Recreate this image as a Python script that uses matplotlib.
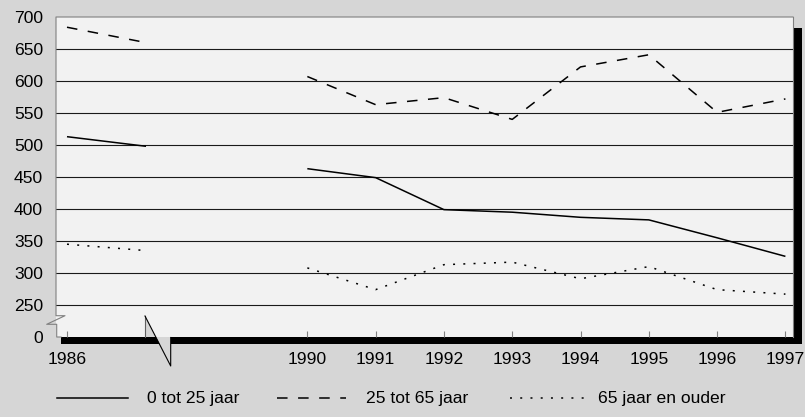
import numpy as np
import matplotlib
matplotlib.use("Agg")
import matplotlib.pyplot as plt
from matplotlib.lines import Line2D
from matplotlib.patches import Rectangle, Polygon
from matplotlib.transforms import Affine2D

# ---------------- data ----------------
years_early = [1986, 1987]
years_late = [1990, 1991, 1992, 1993, 1994, 1995, 1996, 1997]

young_early = [513, 498]
young_late = [463, 449, 399, 395, 387, 383, 355, 326]
mid_early = [684, 660]
mid_late = [607, 563, 574, 540, 622, 641, 551, 572]
old_early = [345, 335]
old_late = [308, 274, 313, 317, 291, 310, 274, 267]

tick_years = [1986, 1990, 1991, 1992, 1993, 1994, 1995, 1996, 1997]
ytick_vals = [0, 250, 300, 350, 400, 450, 500, 550, 600, 650, 700]
grid_vals = [250, 300, 350, 400, 450, 500, 550, 600, 650]
series_labels = ["0 tot 25 jaar", "25 tot 65 jaar", "65 jaar en ouder"]

# ---------------- style ----------------
plt.rcParams["font.family"] = ["Liberation Sans", "DejaVu Sans"]
plt.rcParams["font.size"] = 12.6
BG = "#d6d6d6"
PLOT_BG = "#f2f2f2"
LW = 1.1
DASH = (6.9, 6.9)
DOT = (1.3, 5.4)

W, H = 805, 417
fig = plt.figure(figsize=(W / 100, H / 100), dpi=100, facecolor=BG)
px = Affine2D().scale(1 / W, -1 / H).translate(0, 1) + fig.transFigure

L, T, R, B = 56, 17, 793, 337
ax = fig.add_axes([L / W, (H - B) / H, (R - L) / W, (B - T) / H])
ax.set_facecolor(PLOT_BG)
for s in ax.spines.values():
    s.set_visible(False)

# broken x scale: 1986-1987 compressed, gap, then yearly from 1990
K1 = 1.157
X90 = 3.519


def xf(y):
    y = np.asarray(y, dtype=float)
    return np.where(y <= 1987, (y - 1986) * K1,
                    np.where(y < 1990, K1 + (y - 1987) * (X90 - K1) / 3,
                             X90 + (y - 1990)))


def xi(u):
    u = np.asarray(u, dtype=float)
    return np.where(u <= K1, 1986 + u / K1,
                    np.where(u < X90, 1987 + (u - K1) * 3 / (X90 - K1),
                             1990 + (u - X90)))


# broken y scale: 0 shown just below 250
def yf(v):
    v = np.asarray(v, dtype=float)
    return np.where(v >= 250, v, 200 + v * 0.2)


def yi(u):
    u = np.asarray(u, dtype=float)
    return np.where(u >= 250, u, (u - 200) * 5)


ax.set_xscale("function", functions=(xf, xi))
ax.set_yscale("function", functions=(yf, yi))
ax.set_xlim(1986 - 0.161 / K1, 1990 + (10.63 - X90))
ax.set_ylim(0, 700)

for g in grid_vals:
    ax.axhline(g, color="#1a1a1a", lw=0.8, zorder=1)

ax.set_xticks(tick_years)
ax.set_xticklabels([str(y) for y in tick_years])
ax.set_yticks(ytick_vals)
ax.set_yticklabels([str(v) for v in ytick_vals])
ax.minorticks_off()
ax.tick_params(axis="x", direction="in", length=4.5, width=0.8,
               color="#808080", pad=11)
ax.tick_params(axis="y", length=0, pad=9.4)

styles = [dict(ls="-"), dict(ls=(0, DASH)), dict(ls=(0, DOT))]
pairs = [(young_early, young_late), (mid_early, mid_late), (old_early, old_late)]
for (e, l), st in zip(pairs, styles):
    ax.plot(years_early, e, color="black", lw=LW, solid_capstyle="butt",
            dash_capstyle="butt", zorder=3, **st)
    ax.plot(years_late, l, color="black", lw=LW, solid_capstyle="butt",
            dash_capstyle="butt", zorder=3, **st)

# shadow behind plot area
fig.add_artist(Rectangle((61, 28), 741, 316, transform=px,
                         facecolor="black", edgecolor="none", zorder=-1))

# plot border with y-axis break marker
border = Line2D([R, L, L, 65, 46.7, 56.7, 56.7, 61],
                [T, T, 315.7, 315.7, 324.3, 324.3, 337, 337],
                transform=px, color="#808080", lw=0.8, zorder=5)
fig.add_artist(border)
fig.add_artist(Line2D([R, R], [T, B], transform=px, color="#808080",
                      lw=0.8, zorder=5))

# x-axis break marker
fig.add_artist(Polygon([(145, 316), (145, 337.5), (170.7, 337.5), (170.7, 366)],
                       closed=True, transform=px, facecolor=BG,
                       edgecolor="none", zorder=5))
fig.add_artist(Line2D([145, 145], [337, 316], transform=px, color="#606060",
                      lw=0.8, zorder=6))
fig.add_artist(Line2D([145, 170.7, 170.7], [316, 366, 337.5], transform=px,
                      color="black", lw=0.8, zorder=6))

# legend
leg_y = 398.3
leg = [(57, 128, 146.7), (277, 346, 366), (510, 585, 598.3)]
for (x0, x1, xt), st, lab in zip(leg, styles, series_labels):
    fig.add_artist(Line2D([x0, x1], [leg_y, leg_y], transform=px,
                          color="black", lw=LW, dash_capstyle="butt", **st))
    fig.text(xt / W, 1 - leg_y / H, lab, ha="left", va="center")

fig.savefig("out.png", dpi=100, facecolor=BG)
